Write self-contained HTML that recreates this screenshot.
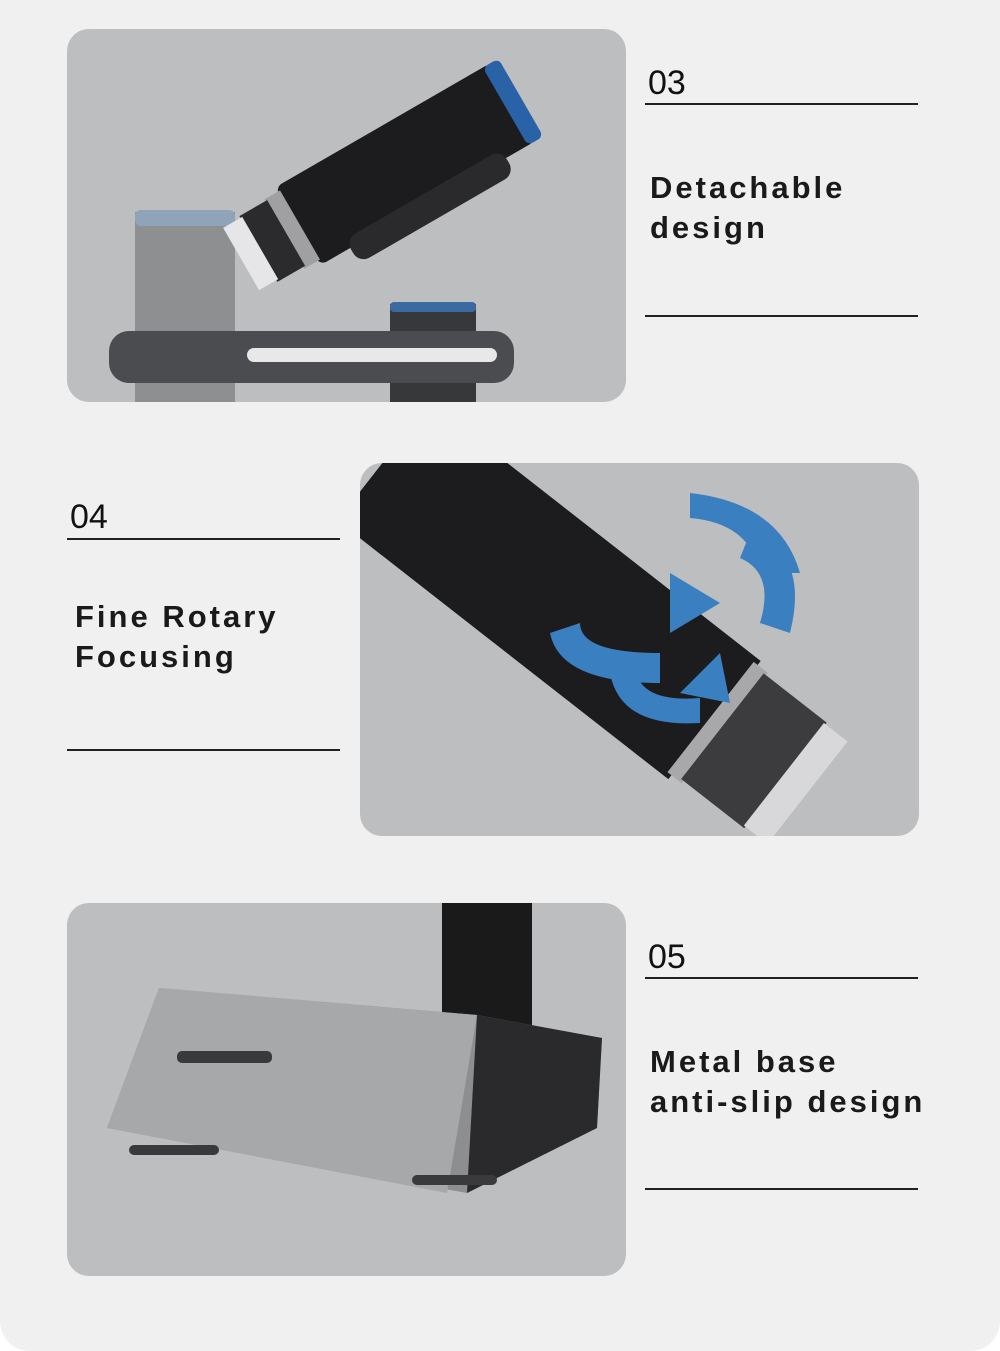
<!DOCTYPE html>
<html><head><meta charset="utf-8"><style>
html,body{margin:0;padding:0;background:#fff;}
#bg{position:relative;width:1000px;height:1351px;background:#f0f0f0;border-radius:0 0 30px 30px;overflow:hidden;font-family:"Liberation Sans",sans-serif;}
.p{position:absolute;width:559px;height:373px;background:#bdbec0;border-radius:22px;overflow:hidden;}
.num{position:absolute;font-size:34px;color:#111;line-height:1;}
.ln{position:absolute;height:2px;background:#222;width:273px;}
.t{position:absolute;font-size:31px;font-weight:bold;color:#1a1a1a;letter-spacing:3px;line-height:40px;}
</style></head><body><div id="bg">

<div class="p" style="left:67px;top:29px;">
<svg width="559" height="373">
<rect x="68" y="183" width="100" height="200" fill="#8e8f91"/>
<rect x="68" y="181" width="100" height="16" rx="6" fill="#8fa4b8"/>
<rect x="323" y="275" width="86" height="110" fill="#37383a"/>
<rect x="323" y="273" width="86" height="10" rx="4" fill="#3b6aa0"/>
<rect x="42" y="302" width="405" height="52" rx="20" fill="#4b4c4f"/>
<rect x="180" y="319" width="250" height="14" rx="7" fill="#e8e8e8"/>
<g transform="rotate(-30 330 140)">
<rect x="215" y="95" width="250" height="90" rx="8" fill="#1c1c1e"/>
<rect x="455" y="95" width="18" height="90" rx="6" fill="#2a62a8"/>
<rect x="200" y="100" width="18" height="80" fill="#a0a0a3"/>
<rect x="170" y="102" width="32" height="76" fill="#2b2b2d"/>
<rect x="150" y="104" width="22" height="72" fill="#e6e6e8"/>
<rect x="250" y="175" width="180" height="28" rx="12" fill="#2a2a2c"/>
</g>
</svg>
</div>
<div class="num" style="left:648px;top:66px;">03</div>
<div class="ln" style="left:645px;top:103px;"></div>
<div class="t" style="left:650px;top:168px;">Detachable<br>design</div>
<div class="ln" style="left:645px;top:315px;"></div>

<div class="p" style="left:360px;top:463px;">
<svg width="559" height="373">
<g transform="rotate(38 200 130)">
<rect x="-20" y="60" width="420" height="150" fill="#1c1c1e"/>
<rect x="395" y="65" width="18" height="140" fill="#a8a8aa"/>
<rect x="410" y="68" width="80" height="134" fill="#3c3c3e"/>
<rect x="488" y="70" width="30" height="130" fill="#d8d8da"/>
</g>
<path d="M330 30 Q420 40 440 110 L400 110 Q390 60 330 55 Z" fill="#3a7fc0"/>
<path d="M190 170 Q200 220 300 220 L300 190 Q220 190 220 160 Z" fill="#3a7fc0"/>
<path d="M310 110 L360 140 L310 170 Z" fill="#3a7fc0"/>
<path d="M360 190 L320 230 L370 240 Z" fill="#3a7fc0"/>
<path d="M390 70 Q450 90 430 170 L400 160 Q415 110 380 95 Z" fill="#3a7fc0"/>
<path d="M250 210 Q260 265 340 260 L340 235 Q280 240 275 205 Z" fill="#3a7fc0"/>
</svg>
</div>
<div class="num" style="left:70px;top:500px;">04</div>
<div class="ln" style="left:67px;top:538px;"></div>
<div class="t" style="left:75px;top:597px;">Fine Rotary<br>Focusing</div>
<div class="ln" style="left:67px;top:749px;"></div>

<div class="p" style="left:67px;top:903px;">
<svg width="559" height="373">
<rect x="375" y="0" width="90" height="140" fill="#1a1a1b"/>
<polygon points="92,85 410,112 535,135 530,225 400,290 40,225" fill="#8d8e90"/>
<polygon points="92,85 410,112 380,290 40,225" fill="#a7a8aa"/>
<polygon points="410,112 535,135 530,225 400,290" fill="#2a2a2c"/>
<rect x="110" y="148" width="95" height="12" rx="5" fill="#3a3a3c"/>
<rect x="62" y="242" width="90" height="10" rx="5" fill="#3a3a3c"/>
<rect x="345" y="272" width="85" height="10" rx="5" fill="#3a3a3c"/>
</svg>
</div>
<div class="num" style="left:648px;top:940px;">05</div>
<div class="ln" style="left:645px;top:977px;"></div>
<div class="t" style="left:650px;top:1042px;">Metal base<br>anti-slip design</div>
<div class="ln" style="left:645px;top:1188px;"></div>

</div></body></html>
